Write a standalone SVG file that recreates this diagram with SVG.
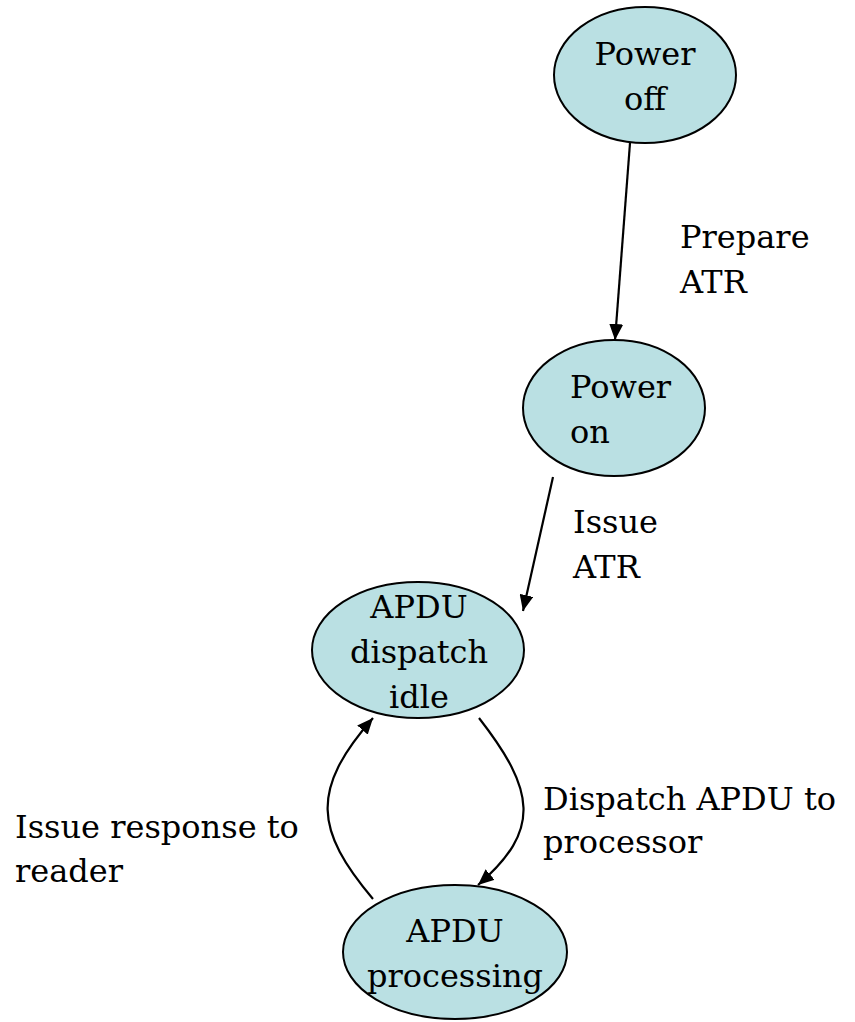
<svg xmlns="http://www.w3.org/2000/svg" width="855" height="1022" viewBox="0 0 855 1022">
<defs>
<marker id="ah" markerUnits="userSpaceOnUse" markerWidth="18" markerHeight="14" refX="16" refY="7" orient="auto"><path d="M0,0 L16,7 L0,14 z" fill="#000"/></marker>
<style>
.n{fill:#BAE0E3;stroke:#000;stroke-width:2}
.t{font-family:"DejaVu Serif","Liberation Serif",serif;font-size:32px;fill:#000}
.c{text-anchor:middle}
.e{fill:none;stroke:#000;stroke-width:2.2;marker-end:url(#ah)}
</style>
</defs>
<rect width="855" height="1022" fill="#fff"/>
<g id="connectors">
<path class="e" d="M630,143 L615,340"/>
<path class="e" d="M553,477 L523,611"/>
<path class="e" d="M479,718 C535,790 542,830 478,885"/>
<path class="e" d="M373,899 C315,830 310,790 373,718"/>
</g>
<g id="labels" class="t">
<text x="680" y="248">Prepare</text>
<text x="680" y="293">ATR</text>
<text x="573" y="533">Issue</text>
<text x="573" y="578">ATR</text>
<text x="543" y="810">Dispatch APDU to</text>
<text x="543" y="853">processor</text>
<text x="15" y="838">Issue response to</text>
<text x="15" y="882">reader</text>
</g>
<g id="power-off"><ellipse class="n" cx="645" cy="75" rx="91" ry="68"/><text class="t c" x="645" y="65">Power</text><text class="t c" x="645" y="110">off</text></g>
<g id="power-on"><ellipse class="n" cx="614" cy="408" rx="91" ry="68"/><text class="t" x="570" y="398">Power</text><text class="t" x="570" y="443">on</text></g>
<g id="apdu-dispatch-idle"><ellipse class="n" cx="418" cy="650" rx="106" ry="68"/><text class="t c" x="419" y="618">APDU</text><text class="t c" x="419" y="663">dispatch</text><text class="t c" x="419" y="708">idle</text></g>
<g id="apdu-processing"><ellipse class="n" cx="455" cy="952" rx="112" ry="67"/><text class="t c" x="455" y="942">APDU</text><text class="t c" x="455" y="987">processing</text></g>
</svg>
